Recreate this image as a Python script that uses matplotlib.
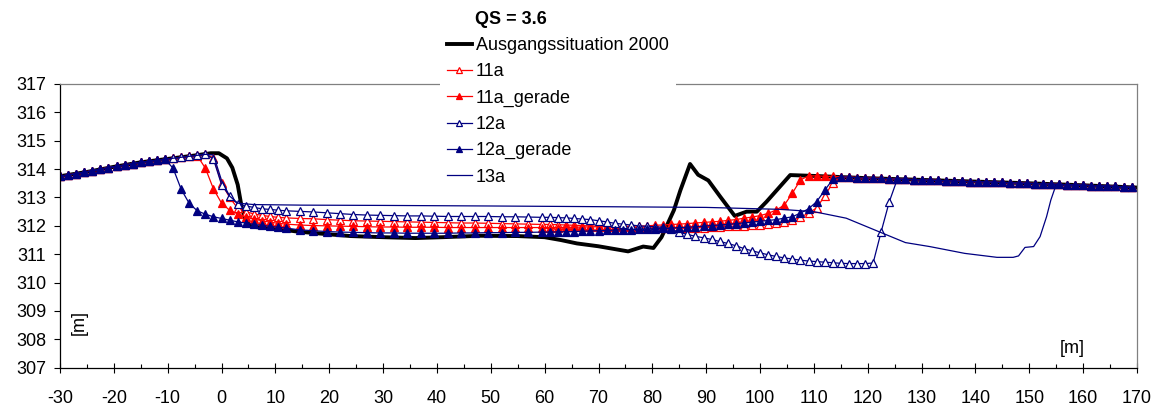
import matplotlib
matplotlib.use("Agg")
import matplotlib.pyplot as plt
from matplotlib.ticker import MultipleLocator

plt.rcParams['font.family'] = ['Liberation Sans', 'DejaVu Sans']
plt.rcParams['axes.unicode_minus'] = False

# cross-section stations [m]
x_left = [-30, -28.5, -27, -25.5, -24, -22.5, -21, -19.5, -18, -16.5, -15, -13.5, -12, -10.5,
          -9, -7.5, -6, -4.5, -3, -1.5, 0, 1.5, 3, 4.5, 6, 7.5, 9, 10.5, 12]
x_mid = [14.5, 17, 19.5, 22, 24.5, 27, 29.5, 32, 34.5, 37, 39.5, 42, 44.5, 47, 49.5, 52, 54.5, 57, 59.5]
x_right = [61, 62.5, 64, 65.5, 67, 68.5, 70, 71.5, 73, 74.5, 76, 77.5, 79, 80.5, 82, 83.5, 85, 86.5,
           88, 89.5, 91, 92.5, 94, 95.5, 97, 98.5, 100, 101.5, 103, 104.5, 106, 107.5, 109,
           110.5, 112, 113.5, 115, 116.5, 118, 119.5, 121, 122.5, 124, 125.5, 127, 128.5, 130,
           131.5, 133, 134.5, 136, 137.5, 139, 140.5, 142, 143.5, 145, 146.5, 148, 149.5, 151,
           152.5, 154, 155.5, 157, 158.5, 160, 161.5, 163, 164.5, 166, 167.5, 169]
x_st = x_left + x_mid + x_right

# bank levels shared by all variants (-30..-10.5 and 110.5..169)
bank_left = [313.75, 313.79, 313.84, 313.89, 313.95, 314.0, 314.05, 314.1, 314.14, 314.19,
             314.24, 314.28, 314.31, 314.35]
bank_right = [313.76, 313.75, 313.74, 313.73, 313.72, 313.70, 313.69, 313.68, 313.67, 313.66,
              313.65, 313.64, 313.63, 313.62, 313.61, 313.60, 313.59, 313.58, 313.57, 313.56,
              313.56, 313.55, 313.54, 313.53, 313.52, 313.51, 313.50, 313.49, 313.48, 313.47,
              313.46, 313.45, 313.44, 313.43, 313.42, 313.41, 313.40, 313.39, 313.37, 313.36]

# Ausgangssituation 2000
x_base = [-30, -25, -20, -15, -10, -5, -2, -0.5, 1, 2, 3, 3.7, 4.4, 5.5, 10, 14, 20, 24, 30, 36,
          41, 48, 55, 60, 63, 66, 70, 75.5, 78.3, 80.2, 81.7, 84, 85.2, 87, 88.5, 90.4, 92.6, 95.3,
          97.5, 99.4, 101.2, 105.6, 110, 120, 130, 140, 150, 160, 170]
y_base = [313.75, 313.9, 314.08, 314.24, 314.36, 314.48, 314.56, 314.56, 314.38, 314.05,
          313.45, 312.7, 312.2, 311.97, 311.9, 311.8, 311.7, 311.64, 311.6, 311.57,
          311.6, 311.65, 311.64, 311.6, 311.5, 311.38, 311.28, 311.1, 311.27, 311.22,
          311.6, 312.55, 313.25, 314.18, 313.8, 313.6, 313.03, 312.35,
          312.5, 312.5, 312.85, 313.79, 313.76, 313.68, 313.62, 313.56, 313.5, 313.43, 313.35]

y_11a = (bank_left
         + [314.38, 314.42, 314.45, 314.49, 314.52, 314.4, 313.5, 313.0, 312.62, 312.5, 312.42,
            312.37, 312.33, 312.3, 312.28]
         + [312.26, 312.25, 312.22, 312.2, 312.18, 312.17, 312.16, 312.15, 312.14, 312.13,
            312.12, 312.11, 312.1, 312.1, 312.09, 312.08, 312.07, 312.06, 312.05]
         + [312.05, 312.04, 312.03, 312.02, 312.01, 312.0, 311.99, 311.98, 311.97, 311.96,
            311.95, 311.94, 311.93, 311.93, 311.92, 311.92, 311.92, 311.92, 311.93, 311.94,
            311.95, 311.96, 311.98, 311.99, 312.0, 312.02, 312.04, 312.06, 312.09, 312.14,
            312.2, 312.3, 312.45, 312.63, 313.05, 313.52]
         + bank_right[3:])

y_11a_gerade = (bank_left
                + [314.38, 314.42, 314.45, 314.47, 314.03, 313.3, 312.8, 312.55, 312.42, 312.32,
                   312.24, 312.18, 312.13, 312.09, 312.06]
                + [312.03, 312.01, 312.0, 311.99, 311.98, 311.97, 311.96, 311.96, 311.95, 311.95,
                   311.95, 311.94, 311.94, 311.94, 311.94, 311.94, 311.94, 311.94, 311.94]
                + [311.94, 311.94, 311.95, 311.95, 311.96, 311.96, 311.97, 311.97, 311.98, 311.98,
                   311.99, 311.99, 312.0, 312.02, 312.03, 312.05, 312.06, 312.08, 312.1, 312.12,
                   312.14, 312.16, 312.19, 312.22, 312.27, 312.31, 312.36, 312.44, 312.56, 312.73,
                   313.15, 313.62, 313.76]
                + bank_right)

y_12a = (bank_left
         + [314.38, 314.42, 314.45, 314.49, 314.54, 314.35, 313.45, 313.05, 312.77, 312.7, 312.65,
            312.6, 312.58, 312.55, 312.53]
         + [312.51, 312.49, 312.46, 312.43, 312.4, 312.38, 312.37, 312.36, 312.35, 312.35,
            312.34, 312.33, 312.33, 312.33, 312.33, 312.32, 312.32, 312.31, 312.3]
         + [312.3, 312.29, 312.28, 312.26, 312.24, 312.22, 312.18, 312.14, 312.09, 312.06,
            312.03, 312.0, 311.98, 311.97, 311.95, 311.88, 311.77, 311.7, 311.63, 311.58,
            311.52, 311.45, 311.38, 311.3, 311.2, 311.12, 311.05, 310.98, 310.92, 310.87,
            310.83, 310.79, 310.76, 310.74, 310.72, 310.7, 310.68, 310.67, 310.67, 310.67,
            310.69, 311.8, 312.85]
         + bank_right[10:])

y_12a_gerade = (bank_left
                + [314.03, 313.29, 312.79, 312.53, 312.41, 312.32, 312.26, 312.2, 312.14, 312.1,
                   312.05, 312.02, 311.98, 311.95, 311.92]
                + [311.86, 311.83, 311.8, 311.78, 311.77, 311.76, 311.75, 311.75, 311.74, 311.74,
                   311.74, 311.74, 311.75, 311.75, 311.76, 311.76, 311.77, 311.77, 311.78]
                + [311.78, 311.79, 311.79, 311.8, 311.81, 311.82, 311.83, 311.84, 311.85, 311.86,
                   311.87, 311.88, 311.89, 311.9, 311.91, 311.92, 311.94, 311.95, 311.97, 311.99,
                   312.01, 312.03, 312.05, 312.08, 312.1, 312.13, 312.16, 312.19, 312.22, 312.27,
                   312.32, 312.45, 312.6, 312.85, 313.25, 313.64]
                + bank_right[3:])

x_13a = [-30, -25, -20, -15, -10, -6, -3, -1.5, 0, 1.5, 3, 6, 15, 30, 50, 67, 90, 104, 110, 116,
         122, 127, 131.5, 138, 144, 147, 148, 149.2, 150.8, 152, 153.2, 154, 155, 160, 165, 169]
y_13a = [313.75, 313.9, 314.08, 314.24, 314.36, 314.45, 314.52, 314.5, 313.6, 313.05, 312.8,
         312.75, 312.73, 312.72, 312.7, 312.68, 312.65, 312.58, 312.5, 312.27, 311.8, 311.41,
         311.27, 311.03, 310.89, 310.89, 310.94, 311.24, 311.27, 311.62, 312.32, 312.91,
         313.46, 313.43, 313.39, 313.36]

RED = '#FF0000'
NAVY = '#000080'
FS = 13

fig = plt.figure(figsize=(11.64, 4.08), dpi=100)
ax = fig.add_axes([60 / 1164, 1 - 367.7 / 408, 1077 / 1164, 283.7 / 408])

ax.plot(x_base, y_base, color='black', lw=2.8, label='Ausgangssituation 2000')
ax.plot(x_st, y_11a, color=RED, lw=0.9, marker='^', ms=5.5, mfc='white', mec=RED, mew=0.9,
        label='11a')
ax.plot(x_st, y_11a_gerade, color=RED, lw=0.9, marker='^', ms=5.5, mfc=RED, mec=RED, mew=0.9,
        label='11a_gerade')
ax.plot(x_st, y_12a, color=NAVY, lw=0.9, marker='^', ms=5.5, mfc='white', mec=NAVY, mew=0.9,
        label='12a')
ax.plot(x_st, y_12a_gerade, color=NAVY, lw=0.9, marker='^', ms=5.5, mfc=NAVY, mec=NAVY, mew=0.9,
        label='12a_gerade')
ax.plot(x_13a, y_13a, color=NAVY, lw=0.9, label='13a')

ax.set_xlim(-30, 170)
ax.set_ylim(307, 317)
ax.xaxis.set_major_locator(MultipleLocator(10))
ax.xaxis.set_minor_locator(MultipleLocator(5))
ax.yaxis.set_major_locator(MultipleLocator(1))

ax.tick_params(axis='x', which='major', direction='inout', length=7, width=0.8,
               labelsize=FS, pad=12.5)
ax.tick_params(axis='x', which='minor', direction='in', length=3, width=0.8)
ax.tick_params(axis='y', which='major', direction='out', length=4, width=0.8,
               labelsize=FS, pad=6)

for side in ('left', 'bottom'):
    ax.spines[side].set_color('black')
    ax.spines[side].set_linewidth(0.9)
for side in ('top', 'right'):
    ax.spines[side].set_color('#808080')
    ax.spines[side].set_linewidth(0.9)

ax.text(0.0176, 0.161, '[m]', rotation=90, fontsize=FS, ha='center', va='center',
        transform=ax.transAxes)
ax.text(0.94, 0.069, '[m]', fontsize=FS, ha='center', va='center', transform=ax.transAxes)

leg = ax.legend(loc='upper left', bbox_to_anchor=(440 / 1164, 1 - 30 / 408),
                bbox_transform=fig.transFigure, fontsize=FS, frameon=True, fancybox=False,
                framealpha=1, facecolor='white', edgecolor='none', borderpad=0.4,
                borderaxespad=0, labelspacing=0.51, handlelength=1.35, handletextpad=0.25,
                markerscale=0.7)
fig.text(475 / 1164, 1 - 20 / 408, 'QS = 3.6', fontsize=FS, fontweight='bold',
         ha='left', va='center')

fig.savefig('out.png', dpi=100)
